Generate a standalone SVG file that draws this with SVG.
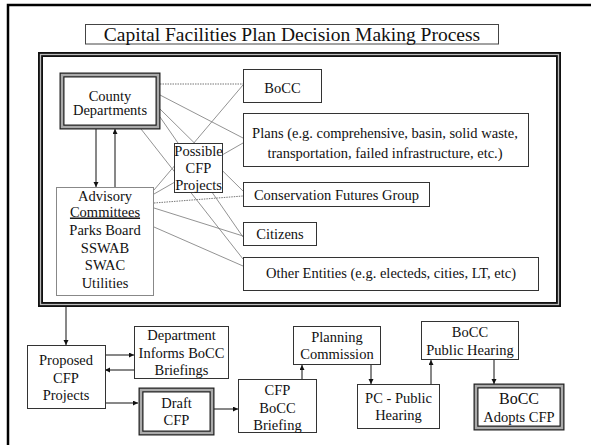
<svg xmlns="http://www.w3.org/2000/svg" width="591" height="445" viewBox="0 0 591 445">
<defs>
<marker id="ah" markerWidth="6" markerHeight="6" refX="5" refY="2.5" orient="auto" markerUnits="userSpaceOnUse">
<path d="M0,0 L5,2.5 L0,5 z" fill="#111"/>
</marker>
<style>
text{font-family:"Liberation Serif","Times New Roman",serif;font-size:14.5px;fill:#111;text-anchor:middle}
.box{fill:#fff;stroke:#333;stroke-width:1}
.lbox{fill:#fff;stroke:#888;stroke-width:1}
.dbo{fill:#fff;stroke:#222;stroke-width:5}
.dbi{fill:none;stroke:#aaa;stroke-width:2.5}
.ln{stroke:#777;stroke-width:0.8;fill:none}
.dt{stroke:#777;stroke-width:1;fill:none;stroke-dasharray:1.5 1}
.ar{stroke:#111;stroke-width:1;fill:none;marker-end:url(#ah)}
</style>
</defs>
<rect width="591" height="445" fill="#fff"/>
<path d="M8,445 V5 H591" fill="none" stroke="#000" stroke-width="2.5"/>

<g id="title">
<rect x="85.5" y="24.5" width="413" height="19.5" fill="#fff" stroke="#444" stroke-width="1"/>
<text x="292" y="41" style="font-size:19.5px">Capital Facilities Plan Decision Making Process</text>
</g>

<g id="frame">
<rect x="40.5" y="54.5" width="518" height="250" fill="#fff" stroke="#111" stroke-width="5"/>
<rect x="40.5" y="54.5" width="518" height="250" fill="none" stroke="#bbb" stroke-width="1.3"/>
</g>

<g id="connectors">
<line class="dt" x1="160" y1="84" x2="243" y2="84"/>
<line class="ln" x1="160" y1="95" x2="243" y2="138"/>
<line class="ln" x1="160" y1="109" x2="243" y2="191"/>
<line class="ln" x1="160" y1="117" x2="243" y2="237"/>
<line class="ln" x1="141" y1="129" x2="243" y2="259"/>
<line class="ln" x1="154" y1="190" x2="243" y2="85"/>
<line class="ln" x1="154" y1="194" x2="243" y2="143"/>
<line class="dt" x1="154" y1="203" x2="243" y2="196"/>
<line class="ln" x1="154" y1="208" x2="243" y2="236"/>
<line class="ln" x1="154" y1="227" x2="243" y2="266"/>
<line class="ar" x1="96" y1="129" x2="96" y2="187"/>
<line class="ar" x1="115" y1="187" x2="115" y2="129"/>
<line class="ar" x1="66" y1="307" x2="66" y2="345"/>
<line class="ar" x1="105" y1="355" x2="134" y2="355"/>
<line class="ar" x1="134" y1="370" x2="105" y2="370"/>
<line class="ar" x1="105" y1="403" x2="138" y2="403"/>
<line class="ar" x1="214" y1="409" x2="238" y2="409"/>
<line class="ar" x1="302" y1="379" x2="302" y2="365"/>
<line class="ar" x1="371" y1="365" x2="371" y2="384"/>
<line class="ar" x1="431" y1="384" x2="431" y2="360"/>
<line class="ar" x1="494" y1="360" x2="494" y2="384"/>
</g>

<g id="county">
<rect class="dbo" x="62" y="75" width="96" height="52"/>
<rect class="dbi" x="62" y="75" width="96" height="52"/>
<text x="110" y="100.5">County</text>
<text x="110" y="115">Departments</text>
</g>

<g id="advisory">
<rect class="lbox" x="56.5" y="187.5" width="97" height="108"/>
<text x="105" y="200.5">Advisory</text>
<text x="105" y="216.5" text-decoration="underline">Committees</text>
<text x="105" y="235">Parks Board</text>
<text x="105" y="252.5">SSWAB</text>
<text x="105" y="270">SWAC</text>
<text x="105" y="287.5">Utilities</text>
</g>

<g id="possible">
<rect class="box" x="174.5" y="143.5" width="48" height="49"/>
<text x="198.5" y="156">Possible</text>
<text x="198.5" y="173">CFP</text>
<text x="198.5" y="190">Projects</text>
</g>

<g id="bocc">
<rect class="box" x="243.5" y="69.5" width="78" height="33"/>
<text x="282.5" y="92.5">BoCC</text>
</g>

<g id="plans">
<rect class="box" x="243.5" y="113.5" width="285" height="53"/>
<text x="385" y="138">Plans (e.g. comprehensive, basin, solid waste,</text>
<text x="385" y="158">transportation, failed infrastructure, etc.)</text>
</g>

<g id="conservation">
<rect class="box" x="243.5" y="182.5" width="186" height="24"/>
<text x="336.5" y="200">Conservation Futures Group</text>
</g>

<g id="citizens">
<rect class="box" x="243.5" y="222.5" width="73" height="23"/>
<text x="280" y="239">Citizens</text>
</g>

<g id="other">
<rect class="box" x="243.5" y="257.5" width="295" height="33"/>
<text x="391" y="278">Other Entities (e.g. electeds, cities, LT, etc)</text>
</g>

<g id="proposed">
<rect class="box" x="27.5" y="345.5" width="78" height="63"/>
<text x="66" y="365">Proposed</text>
<text x="66" y="382.5">CFP</text>
<text x="66" y="399.5">Projects</text>
</g>

<g id="department">
<rect class="box" x="134.5" y="326.5" width="94" height="52"/>
<text x="181.5" y="340">Department</text>
<text x="181.5" y="357.5">Informs BoCC</text>
<text x="181.5" y="375">Briefings</text>
</g>

<g id="draft">
<rect class="dbo" x="141" y="390" width="71" height="43"/>
<rect class="dbi" x="141" y="390" width="71" height="43"/>
<text x="176.5" y="407.5">Draft</text>
<text x="176.5" y="425">CFP</text>
</g>

<g id="cfpbriefing">
<rect class="box" x="238.5" y="379.5" width="78" height="53"/>
<text x="277.5" y="395">CFP</text>
<text x="277.5" y="412.5">BoCC</text>
<text x="277.5" y="430">Briefing</text>
</g>

<g id="planning">
<rect class="box" x="293.5" y="326.5" width="87" height="38"/>
<text x="337" y="341.5">Planning</text>
<text x="337" y="359">Commission</text>
</g>

<g id="pchearing">
<rect class="box" x="357.5" y="384.5" width="82" height="44"/>
<text x="398.5" y="403">PC - Public</text>
<text x="398.5" y="420">Hearing</text>
</g>

<g id="boccph">
<rect class="box" x="421.5" y="321.5" width="97" height="38"/>
<text x="470" y="337">BoCC</text>
<text x="470" y="355">Public Hearing</text>
</g>

<g id="adopts">
<rect class="dbo" x="476" y="386" width="86" height="42"/>
<rect class="dbi" x="476" y="386" width="86" height="42"/>
<text x="519" y="404" style="font-size:16px">BoCC</text>
<text x="519" y="421.5">Adopts CFP</text>
</g>
</svg>
